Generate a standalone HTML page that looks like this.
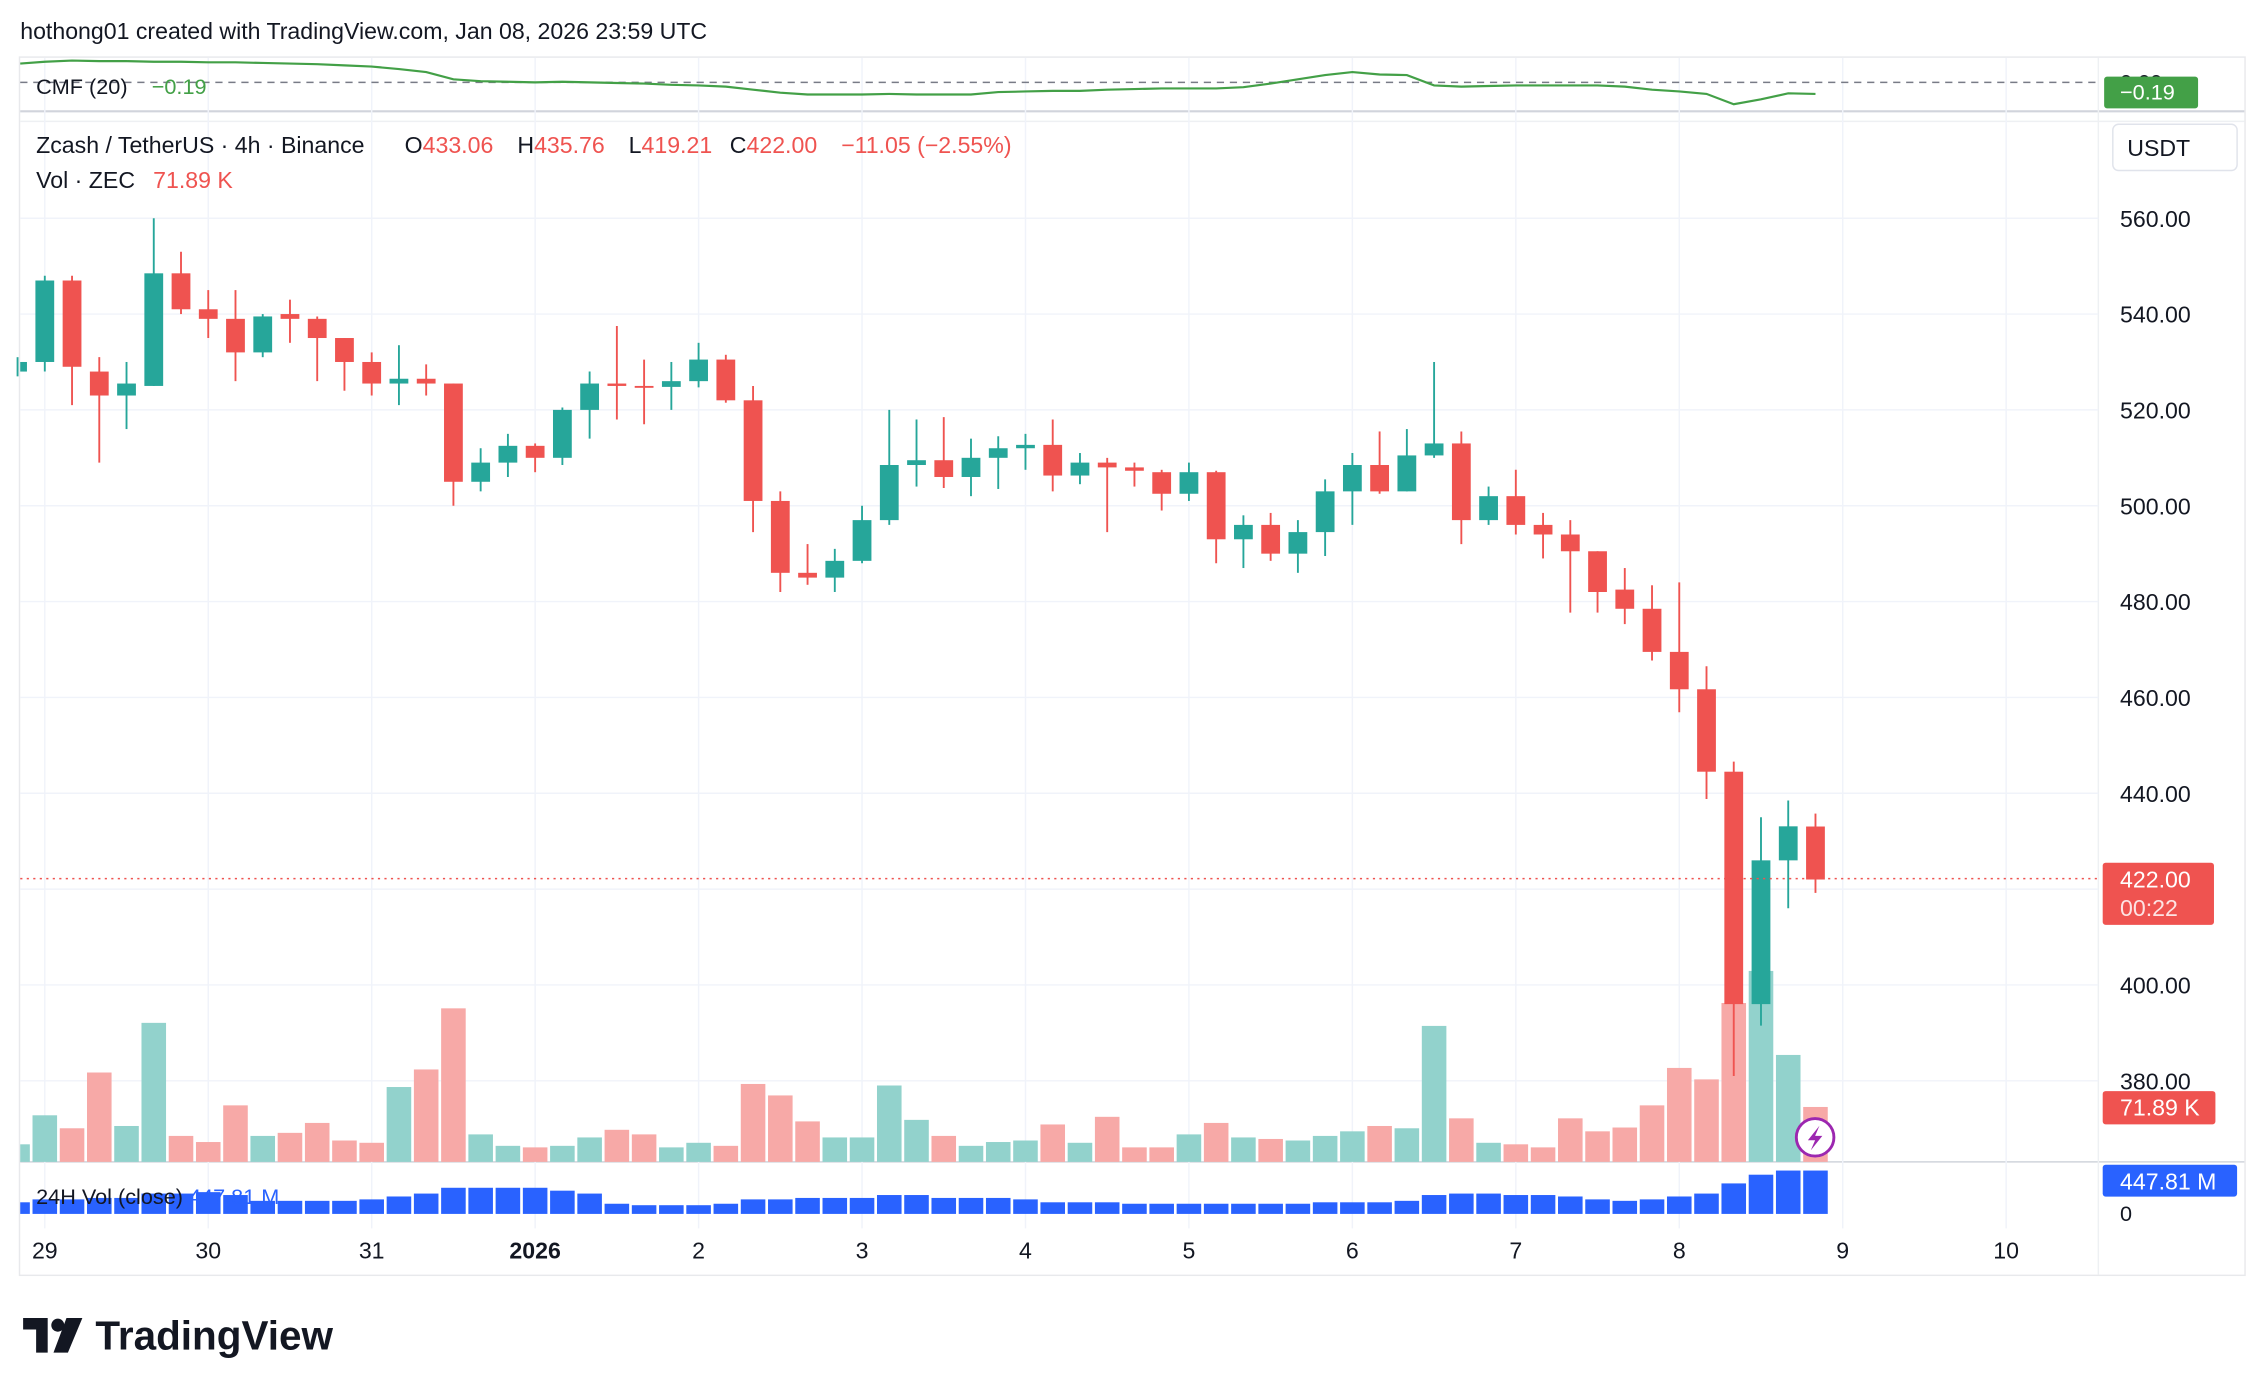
<!DOCTYPE html>
<html><head><meta charset="utf-8"><style>
html,body{margin:0;padding:0;background:#fff;width:2266px;height:1396px;overflow:hidden}
svg{display:block;font-family:"Liberation Sans",sans-serif}
</style></head><body>
<svg id="chart" width="2266" height="1396" viewBox="0 0 1568 966" preserveAspectRatio="none" xmlns="http://www.w3.org/2000/svg">
<rect x="0" y="0" width="1568" height="966" fill="#fff"/>
<text x="14" y="27" font-size="16" fill="#131722">hothong01 created with TradingView.com, Jan 08, 2026 23:59 UTC</text>
<rect x="13.5" y="39.5" width="1540" height="843" fill="none" stroke="#e8e9ec"/>
<line x1="14" y1="77" x2="1553" y2="77" stroke="#d1d4dc" stroke-width="1.5"/>
<line x1="14" y1="84" x2="1553" y2="84" stroke="#eef0f3"/>
<line x1="14" y1="804" x2="1553" y2="804" stroke="#d1d4dc"/>
<line x1="1452" y1="40" x2="1452" y2="882" stroke="#eef0f3"/>
<g id="grid"></g>
<g id="cmf"></g>
<g id="vols"></g>
<g id="candles"></g>
<g id="vol24"></g>
<line x1="14" y1="608" x2="1452" y2="608" stroke="#ef5350" stroke-width="1" stroke-dasharray="1.5,3"/>
<g><text x="25" y="65" font-size="15" fill="#131722">CMF (20)</text><text x="105" y="65" font-size="15" fill="#43a047">−0.19</text></g>
<g font-size="16">
<text x="25" y="106" fill="#131722">Zcash / TetherUS · 4h · Binance</text>
<text x="280" y="106" fill="#131722">O<tspan fill="#ef5350">433.06</tspan></text>
<text x="358" y="106" fill="#131722">H<tspan fill="#ef5350">435.76</tspan></text>
<text x="435" y="106" fill="#131722">L<tspan fill="#ef5350">419.21</tspan></text>
<text x="505" y="106" fill="#131722">C<tspan fill="#ef5350">422.00</tspan></text>
<text x="582" y="106" fill="#ef5350">−11.05 (−2.55%)</text>
<text x="25" y="130" fill="#131722">Vol · ZEC</text>
<text x="106" y="130" fill="#ef5350">71.89 K</text>
</g>
<text x="25" y="833" font-size="15" fill="#131722">24H Vol (close) <tspan fill="#2962ff">447.81 M</tspan></text>
<g id="yaxis"></g>
<g><rect x="1462" y="86" width="86" height="32" rx="4" fill="#fff" stroke="#e0e3eb"/><text x="1472" y="108" font-size="16" fill="#131722">USDT</text></g>
<text x="1467" y="62" font-size="15" fill="#131722">0.00</text>
<g><rect x="1456" y="53" width="65" height="22" rx="2" fill="#43a047"/><text x="1467" y="69" font-size="15" fill="#fff">−0.19</text></g>
<g><rect x="1455" y="597" width="77" height="43" rx="2" fill="#ef5350"/><text x="1467" y="614" font-size="16" fill="#fff">422.00</text><text x="1467" y="634" font-size="16" fill="#fde3e3">00:22</text></g>
<g><rect x="1455" y="755" width="78" height="23" rx="2" fill="#ef5350"/><text x="1467" y="772" font-size="16" fill="#fff">71.89 K</text></g>
<g><rect x="1455" y="806" width="93" height="22" rx="2" fill="#2962ff"/><text x="1467" y="823" font-size="16" fill="#fff">447.81 M</text></g>
<text x="1467" y="845" font-size="15" fill="#131722">0</text>
<g id="xaxis"></g>
<g><circle cx="1256" cy="787" r="13" fill="#fff" stroke="#9c27b0" stroke-width="2"/><path d="M1259 779 L1251 789 L1256 789 L1253 796 L1261 786 L1256 786 Z" fill="#9c27b0"/></g>
<g>
<path d="M16 912 H33 V936 H25 V920 H16 Z" fill="#131722"/><circle cx="40" cy="917" r="4.5" fill="#131722"/><path d="M46 912 H57 L47 936 H37 Z" fill="#131722"/>
<text x="66" y="934" font-size="28" font-weight="bold" fill="#131722">TradingView</text></g>
</svg>
<script>
const priceTicks=[560,540,520,500,480,460,440,420,400,380];
const dayLabels=["29","30","31","2026","2","3","4","5","6","7","8","9","10"];
const opens=[528,530,547,528,523,525,548.5,541,539,532,540,539,535,530,525.5,526.5,525.5,505,509,512.5,510,520,525.5,525,524.8,526,530.5,522,501,486,485,488.5,497,508.5,509.5,506,510,512,512.7,506.3,509,508,507,502.5,507,493,496,490,494.5,503,508.5,503,510.5,513,497,502,496,494,490.5,482.5,478.5,469.5,461.7,444.5,396,426,433.06];
const highs=[531,548,548,531,530,560,553,545,545,540,543,539.5,535,532,533.5,529.5,525.5,512,515,513,520.5,528,537.5,530.5,530,534,531.5,525,503,492,491,500,520,518,518.5,514,514.5,515,518,511,510,509,507.5,509,507.3,498,498.5,497,505.5,511,515.5,516,530,515.5,504,507.5,498.5,497,490.5,487,483.4,484,466.5,446.6,435,438.5,435.76];
const lows=[527,528,521,509,516,525,540,535,526,531,534,526,524,523,521,523,500,503,506,507,508.5,514,518,517,520,524.7,521.5,494.5,482,483.5,482,488,496,504,503.7,502,503.5,507.5,503,504.5,494.5,504,499,501,488,487,488.5,486,489.5,496,502.5,503,510,492,496,494,489,477.7,477.7,475.3,467.7,456.9,438.8,381,391.5,416,419.21];
const closes=[530,547,529,523,525.5,548.5,541,539,532,539.5,539,535,530,525.5,526.5,525.5,505,509,512.5,510,520,525.5,525,524.8,526,530.5,522,501,486,485,488.5,497,508.5,509.5,506,510,512,512.7,506.3,509,508,507.3,502.5,507,493,496,490,494.5,503,508.5,503,510.5,513,497,502,496,494,490.5,482,478.5,469.5,461.7,444.5,396,426,433.1,422];
const volumesK=[23,61,44,117,47,182,34,26,74,34,38,51,28,25,98,121,201,36,21,19,21,32,42,36,19,25,21,102,87,53,32,32,100,55,34,21,26,28,49,25,59,19,19,36,51,32,30,28,34,40,47,44,178,57,25,23,19,57,40,45,74,123,108,208,250,140,71.89];
const vol24M=[120,150,150,165,165,210,210,225,195,135,135,135,135,150,180,210,270,270,270,270,240,210,105,90,90,90,105,150,150,165,165,165,195,195,165,165,165,150,120,120,120,105,105,105,105,105,105,105,120,120,120,135,195,210,210,195,195,180,150,135,150,180,210,315,405,447.81,447.81];
const cmfValues=[0.31,0.34,0.36,0.35,0.35,0.34,0.34,0.33,0.33,0.32,0.31,0.30,0.28,0.26,0.22,0.17,0.05,0.02,0.01,0.0,0.01,0.0,-0.01,-0.02,-0.04,-0.05,-0.07,-0.12,-0.17,-0.2,-0.2,-0.2,-0.19,-0.2,-0.2,-0.2,-0.16,-0.15,-0.14,-0.14,-0.12,-0.11,-0.10,-0.10,-0.10,-0.08,-0.02,0.05,0.12,0.17,0.13,0.12,-0.05,-0.07,-0.06,-0.05,-0.05,-0.05,-0.05,-0.07,-0.12,-0.15,-0.19,-0.36,-0.28,-0.18,-0.19];

const NS="http://www.w3.org/2000/svg";
const step=18.85;
function xAt(i){return 31+step*(i-1);}       // array index 1 = Dec 29 00:00
function yPrice(p){return 151+(560-p)*3.316;}
function yVol(v){return 804-v*0.5286;}
function yVol24(v){return 840-v*0.0670;}
function yCmf(v){return 57-v*42;}
function mk(tag,attrs,parent){const e=document.createElementNS(NS,tag);for(const k in attrs)e.setAttribute(k,attrs[k]);parent.appendChild(e);return e;}

const grid=document.getElementById('grid');
const yaxis=document.getElementById('yaxis');
priceTicks.forEach(p=>{
  const l=mk('line',{x1:14,x2:1452,y1:yPrice(p),y2:yPrice(p),stroke:'#f0f3fa','stroke-width':1},grid);
  
  
  if(p===420) return;
  const t=mk('text',{x:1467,y:yPrice(p)+6,'font-size':16,fill:'#131722'},yaxis);
  t.textContent=p.toFixed(2);
  
  
});
const xaxis=document.getElementById('xaxis');
dayLabels.forEach((d,k)=>{
  const x=xAt(1+6*k);
  const l=mk('line',{x1:x,x2:x,y1:40,y2:850,stroke:'#f0f3fa','stroke-width':1},grid);
  
  
  const t=mk('text',{x:x,y:871,'font-size':16,fill:'#131722','text-anchor':'middle','font-weight':d==='2026'?'bold':'normal'},xaxis);
  t.textContent=d;
  
  
});

const cmfG=document.getElementById('cmf');
const z=mk('line',{x1:14,x2:1452,y1:yCmf(0),y2:yCmf(0),stroke:'#787b86','stroke-dasharray':'5,4','stroke-width':1},cmfG);


const pts=cmfValues.map((v,i)=>Math.max(14,xAt(i))+','+yCmf(v)).join(' ');
const cl=mk('polyline',{points:pts,fill:'none',stroke:'#43a047','stroke-width':1.5},cmfG);



const vG=document.getElementById('vols'),cG=document.getElementById('candles'),v24G=document.getElementById('vol24');
closes.forEach((c,i)=>{
  const up=c>=opens[i];
  const x=xAt(i);
  const x0=Math.max(14,x-8.5), x1=x+8.5;
  const vb=mk('rect',{x:x0,y:yVol(volumesK[i]),width:x1-x0,height:804-yVol(volumesK[i]),fill:up?'#92d2cc':'#f7a9a7'},vG);
  
  
  const b2=mk('rect',{x:x0,y:yVol24(vol24M[i]),width:x1-x0,height:840-yVol24(vol24M[i]),fill:'#2962ff'},v24G);
  
  
  const col=up?'#26a69a':'#ef5350';
  const w=mk('line',{x1:x,x2:x,y1:yPrice(highs[i]),y2:yPrice(lows[i]),stroke:col,'stroke-width':1.3},cG);
  
  
  const top=yPrice(Math.max(c,opens[i])),bot=yPrice(Math.min(c,opens[i]));
  const bx0=Math.max(14,x-6.5);
  const body=mk('rect',{x:bx0,y:top,width:x+6.5-bx0,height:Math.max(1.3,bot-top),fill:col},cG);
  
  
});
</script>
</body></html>
